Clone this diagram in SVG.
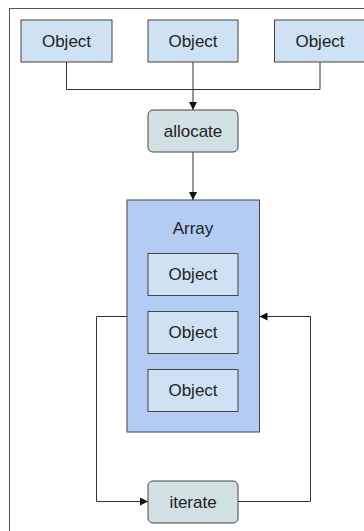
<svg xmlns="http://www.w3.org/2000/svg" width="364" height="531" viewBox="0 0 364 531">
<defs>
<style>
.obj{fill:#cfe2f3;stroke:#444;stroke-width:1}
.proc{fill:#d0e0e3;stroke:#444;stroke-width:1}
.arr{fill:#b4cbf4;stroke:#444;stroke-width:1}
.t{font-family:"Liberation Sans",Arial,sans-serif;font-size:17px;fill:#222;text-anchor:middle}
.c{fill:none;stroke:#333;stroke-width:1}
</style>
<marker id="ah" viewBox="0 0 10 10" refX="10" refY="5" markerWidth="8" markerHeight="8" markerUnits="userSpaceOnUse" orient="auto">
<path d="M0,0 L10,5 L0,10 z" fill="#111"/>
</marker>
</defs>
<rect width="364" height="531" fill="#fff"/>
<rect x="9.5" y="8.5" width="370" height="540" fill="none" stroke="#555" stroke-width="1"/>
<g id="connectors">
<path class="c" d="M66.5,62 V89.5 H320 V62"/>
<path class="c" d="M193,62 V110" marker-end="url(#ah)"/>
<path class="c" d="M193,152 V200" marker-end="url(#ah)"/>
<path class="c" d="M127,316.5 H96.5 V501.5 H148" marker-end="url(#ah)"/>
<path class="c" d="M238,501.5 H310.5 V316.5 H259.5" marker-end="url(#ah)"/>
</g>
<g id="obj1"><rect class="obj" x="21" y="20" width="91" height="42"/><text class="t" x="66.5" y="46.5">Object</text></g>
<g id="obj2"><rect class="obj" x="148" y="20" width="90" height="42"/><text class="t" x="193" y="46.5">Object</text></g>
<g id="obj3"><rect class="obj" x="274.5" y="20" width="91" height="42"/><text class="t" x="320" y="46.5">Object</text></g>
<g id="allocate"><rect class="proc" x="148" y="110" width="90" height="42" rx="5"/><text class="t" x="193" y="136.5">allocate</text></g>
<g id="array"><rect class="arr" x="127" y="200" width="132.5" height="232"/><text class="t" x="193" y="233.5">Array</text></g>
<g id="aobj1"><rect class="obj" x="148" y="253.5" width="90" height="42"/><text class="t" x="193" y="280">Object</text></g>
<g id="aobj2"><rect class="obj" x="148" y="311.5" width="90" height="42"/><text class="t" x="193" y="338">Object</text></g>
<g id="aobj3"><rect class="obj" x="148" y="369.5" width="90" height="42"/><text class="t" x="193" y="396">Object</text></g>
<g id="iterate"><rect class="proc" x="148" y="481" width="90" height="42" rx="5"/><text class="t" x="193" y="507.5">iterate</text></g>
</svg>
